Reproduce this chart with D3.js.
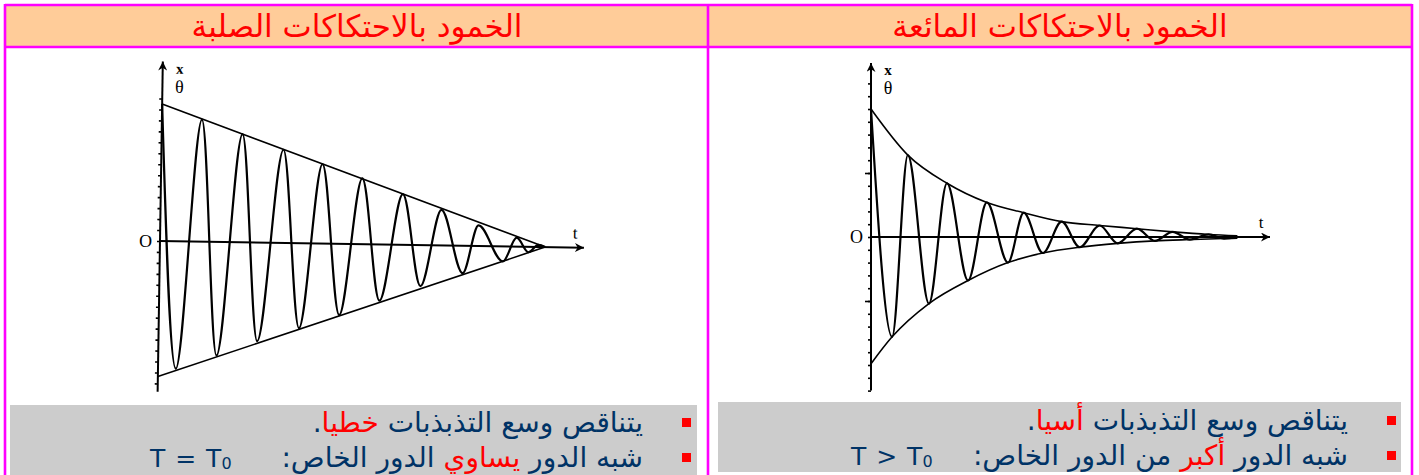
<!DOCTYPE html>
<html>
  <head>
    <meta charset="utf-8" />
    <style>
      body {
        margin: 0;
        background: #fff;
      }

      .chart-container {
        position: relative;
        width: 1419px;
        height: 475px;
        overflow: hidden;
        font-family: "DejaVu Sans", sans-serif;
      }

      svg {
        position: absolute;
        left: 0;
        top: 0;
      }

      .tick line {
        stroke: #000;
        stroke-width: 1.6px;
      }

      .domain {
        display: none;
      }

      .head {
        font-size: 31px;
        fill: #ff0000;
      }

      .row {
        position: absolute;
        direction: rtl;
        white-space: pre;
        font-size: 28px;
        line-height: 34px;
        color: #003366;
      }

      .formula {
        position: absolute;
        white-space: pre;
        font-size: 25px;
        line-height: 34px;
        word-spacing: 2px;
        color: #003366;
      }

      .formula sub {
        font-size: 16px;
        vertical-align: -2px;
      }

      .red {
        color: #ff0000;
      }

      .lbl {
        font-family: "Liberation Serif", serif;
        fill: #000;
      }
    </style>
  </head>

  <body>
    <div class="chart-container">
      <svg width="1419" height="475"></svg>
    </div>
  </body>

  <script src="https://d3js.org/d3.v7.min.js"></script>

  <script>
    // column titles
    let titles = ["الخمود بالاحتكاكات الصلبة", "الخمود بالاحتكاكات المائعة"];

    // solid friction: extrema (t in periods, x relative to x0)
    let solidT = [0, 0.45, 1.01, 1.47, 2.04, 2.49, 3.08, 3.54, 4.07, 4.55, 5.08, 5.56, 6.11, 6.59, 7.09, 7.65, 8.03, 8.66, 9.0, 9.3, 9.55, 9.72];
    let solidX = [1.0, -0.93, 0.89, -0.83, 0.79, -0.72, 0.68, -0.62, 0.58, -0.52, 0.48, -0.41, 0.37, -0.3, 0.26, -0.2, 0.15, -0.11, 0.065, -0.04, 0.015, 0];
    // straight envelopes
    let solidUpperT = [0, 9.72];
    let solidUpperX = [1.0, 0];
    let solidLowerT = [0, 9.72];
    let solidLowerX = [-0.99, 0];

    // fluid friction: extrema
    let fluidT = [0, 0.55, 0.96, 1.51, 1.98, 2.53, 3.02, 3.57, 3.98, 4.48, 4.97, 5.44, 5.96, 6.43, 6.93, 7.4, 7.86, 8.31, 8.8, 9.2, 9.55];
    let fluidX = [1.0, -0.78, 0.64, -0.52, 0.42, -0.34, 0.27, -0.2, 0.19, -0.125, 0.12, -0.08, 0.09, -0.05, 0.065, -0.03, 0.04, -0.02, 0.02, -0.012, 0];
    // exponential envelopes, through the peaks / troughs
    let fluidUpperT = [0, 0.96, 1.98, 3.02, 3.98, 4.97, 5.96, 6.93, 7.86, 8.8, 9.55];
    let fluidUpperX = [1.0, 0.64, 0.42, 0.27, 0.19, 0.12, 0.09, 0.065, 0.04, 0.02, 0.01];
    let fluidLowerT = [0, 0.55, 1.51, 2.53, 3.57, 4.48, 5.44, 6.43, 7.4, 8.31, 9.2, 9.55];
    let fluidLowerX = [-0.99, -0.78, -0.52, -0.34, -0.2, -0.125, -0.08, -0.05, -0.03, -0.02, -0.012, -0.01];

    let svg = d3.select("svg");
    let container = d3.select(".chart-container");

    // arrow head
    svg
      .append("defs")
      .append("marker")
      .attr("id", "arrow")
      .attr("viewBox", "0 0 10 10")
      .attr("refX", 10)
      .attr("refY", 5)
      .attr("markerWidth", 11)
      .attr("markerHeight", 9)
      .attr("markerUnits", "userSpaceOnUse")
      .attr("orient", "auto")
      .append("path")
      .attr("d", "M0,0 L10,5 L0,10 L3,5 Z")
      .attr("fill", "#000");

    // ---- table ----
    let magenta = "#ff00ff";
    svg
      .append("rect")
      .attr("x", 5)
      .attr("y", 5)
      .attr("width", 1407)
      .attr("height", 42)
      .attr("fill", "#ffcc99");

    // grey boxes
    svg.append("rect").attr("x", 10).attr("y", 405).attr("width", 687).attr("height", 80).attr("fill", "#cccccc");
    svg.append("rect").attr("x", 718).attr("y", 402).attr("width", 683).attr("height", 70).attr("fill", "#cccccc");

    let borders = [
      [5, 5, 1412, 5],
      [5, 47, 1412, 47],
      [5, 4, 5, 480],
      [1412, 4, 1412, 480],
      [708, 4, 708, 480],
    ];
    for (let b of borders) {
      svg
        .append("line")
        .attr("x1", b[0])
        .attr("y1", b[1])
        .attr("x2", b[2])
        .attr("y2", b[3])
        .attr("stroke", magenta)
        .attr("stroke-width", 2.6);
    }

    svg.append("text").attr("class", "head").attr("x", 357).attr("y", 37).attr("text-anchor", "middle").text(titles[0]);
    svg.append("text").attr("class", "head").attr("x", 1060).attr("y", 37).attr("text-anchor", "middle").text(titles[1]);

    // ---- graphs ----
    function drawGraph(opts) {
      let g = svg.append("g").attr("transform", opts.transform || null);
      let x = opts.x;
      let y = opts.y;

      g.append("g")
        .attr("transform", `translate(${x(0)},0)`)
        .call(d3.axisLeft(y).tickValues(opts.ticks).tickSize(3).tickSizeOuter(0).tickFormat(""));

      if (opts.majorTicks) {
        g.append("g")
          .attr("transform", `translate(${x(0)},0)`)
          .call(d3.axisLeft(y).tickValues(opts.majorTicks).tickSize(6).tickSizeOuter(0).tickFormat(""));
      }

      // axes with arrows
      g.append("line")
        .attr("x1", x(0))
        .attr("y1", y(opts.yMin))
        .attr("x2", x(0))
        .attr("y2", y(opts.yMax))
        .attr("stroke", "#000")
        .attr("stroke-width", 2)
        .attr("marker-end", "url(#arrow)");

      g.append("line")
        .attr("x1", x(0))
        .attr("y1", y(0))
        .attr("x2", x(opts.tMax))
        .attr("y2", y(0))
        .attr("stroke", "#000")
        .attr("stroke-width", 2)
        .attr("marker-end", "url(#arrow)");

      let line = d3
        .line()
        .x((d) => x(d[0]))
        .y((d) => y(d[1]));

      for (let env of opts.envelopes) {
        g.append("path")
          .attr("d", line.curve(opts.envCurve)(env))
          .attr("fill", "none")
          .attr("stroke", "#000")
          .attr("stroke-width", 1.6);
      }

      g.append("path")
        .attr("d", line.curve(d3.curveMonotoneX)(opts.signal))
        .attr("fill", "none")
        .attr("stroke", "#000")
        .attr("stroke-width", 2.2);

      // labels
      g.append("text").attr("class", "lbl").attr("x", x(0) - 8).attr("y", y(0) + 6).attr("text-anchor", "end").attr("font-size", 18).text("O");
      g.append("text").attr("class", "lbl").attr("x", x(0) + 17).attr("y", y(opts.yMax) + 12).attr("text-anchor", "middle").attr("font-size", 15).attr("font-weight", "bold").text("x");
      g.append("text").attr("class", "lbl").attr("x", x(0) + 17).attr("y", y(opts.yMax) + 31).attr("text-anchor", "middle").attr("font-size", 18).text("θ");
      g.append("text").attr("class", "lbl").attr("x", x(opts.tMax) - 9).attr("y", y(0) - 9).attr("text-anchor", "middle").attr("font-size", 17).text("t");
    }

    let solidXScale = d3.scaleLinear().domain([0, 10.7]).range([160, 584]);
    let solidYScale = d3.scaleLinear().domain([-1, 1]).range([378, 104]);

    drawGraph({
      x: solidXScale,
      y: solidYScale,
      yMin: -1.1,
      yMax: 1.31,
      tMax: 10.7,
      ticks: d3.range(-1.04, 1.05, 0.08),
      transform: "rotate(0.9, 160, 241)",
      signal: d3.zip(solidT, solidX),
      envelopes: [d3.zip(solidUpperT, solidUpperX), d3.zip(solidLowerT, solidLowerX)],
      envCurve: d3.curveLinear,
    });

    let fluidXScale = d3.scaleLinear().domain([0, 10.4]).range([871, 1270]);
    let fluidYScale = d3.scaleLinear().domain([-1, 1]).range([365, 109]);

    drawGraph({
      x: fluidXScale,
      y: fluidYScale,
      yMin: -1.2,
      yMax: 1.36,
      tMax: 10.4,
      ticks: d3.range(-1.2, 1.25, 0.1),
      majorTicks: [-0.5, 0.5],
      signal: d3.zip(fluidT, fluidX),
      envelopes: [d3.zip(fluidUpperT, fluidUpperX), d3.zip(fluidLowerT, fluidLowerX)],
      envCurve: d3.curveMonotoneX,
    });

    // ---- bullet text ----
    let bullets = [
      [682, 418],
      [682, 453],
      [1387, 416],
      [1387, 451],
    ];
    for (let b of bullets) {
      svg.append("rect").attr("x", b[0]).attr("y", b[1]).attr("width", 9).attr("height", 9).attr("fill", "#ff0000");
    }

    let rows = [
      { right: 776, top: 406, html: 'يتناقص وسع التذبذبات <span class="red">خطيا</span>.' },
      { right: 776, top: 441, html: 'شبه الدور <span class="red">يساوي</span> الدور الخاص:' },
      { right: 71, top: 404, html: 'يتناقص وسع التذبذبات <span class="red">أسيا</span>.' },
      { right: 71, top: 439, html: 'شبه الدور <span class="red">أكبر</span> من الدور الخاص:' },
    ];
    for (let r of rows) {
      container
        .append("div")
        .attr("class", "row")
        .style("right", r.right + "px")
        .style("top", r.top + "px")
        .html(r.html);
    }

    let formulas = [
      { left: 150, top: 442, html: "T = T<sub>0</sub>" },
      { left: 851, top: 440, html: "T &gt; T<sub>0</sub>" },
    ];
    for (let f of formulas) {
      container
        .append("div")
        .attr("class", "formula")
        .style("left", f.left + "px")
        .style("top", f.top + "px")
        .html(f.html);
    }
  </script>
</html>
